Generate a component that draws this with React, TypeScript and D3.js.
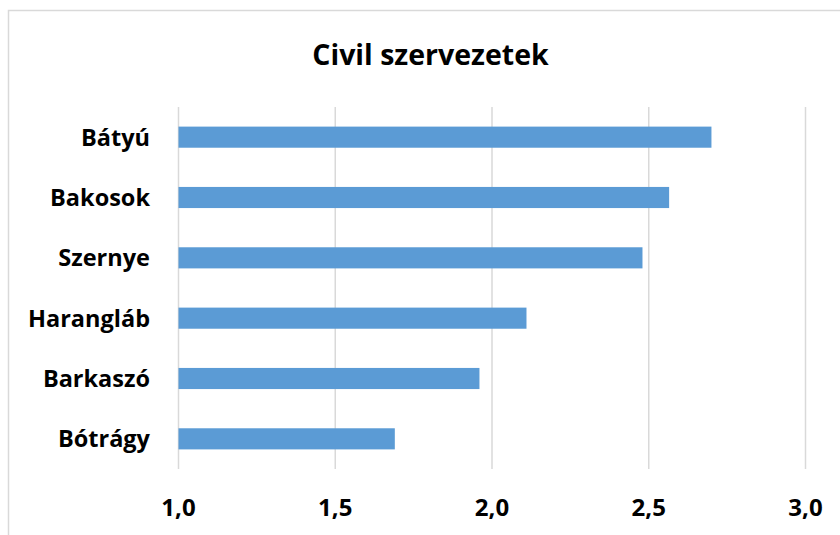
import React from "react";
import * as d3 from "d3";

const categories = ["Bátyú", "Bakosok", "Szernye", "Harangláb", "Barkaszó", "Bótrágy"];
const values = [2.7, 2.565, 2.48, 2.11, 1.96, 1.69];
const ticks = [1.0, 1.5, 2.0, 2.5, 3.0];
const title = "Civil szervezetek";

export default function App() {
  const W = 840, H = 535;
  const x = d3.scaleLinear().domain([1, 3]).range([178.5, 805.5]);
  const y = d3.scaleBand<string>().domain(categories).range([107, 469]).paddingInner(0.65).paddingOuter(0.325);
  const font = "'Open Sans', sans-serif";
  const fmt = (v: number) => d3.format(".1f")(v).replace(".", ",");
  return (
    <svg width={W} height={H} style={{ position: "absolute", left: 0, top: 0, background: "#fff" }}>
      <rect x={8.5} y={10.5} width={W + 20} height={H + 20} fill="#fff" stroke="#d9d9d9" strokeWidth={1.5} />
      <text x={430.5} y={65} textAnchor="middle" fontFamily={font} fontWeight={700} fontSize={28.5} fill="#000">{title}</text>
      {ticks.map((t) => (
        <line key={t} x1={x(t)} x2={x(t)} y1={107} y2={469} stroke="#d9d9d9" strokeWidth={1.5} />
      ))}
      {categories.map((c, i) => (
        <rect key={c} x={x(1)} y={y(c)!} width={x(values[i]) - x(1)} height={y.bandwidth()} fill="#5b9bd5" />
      ))}
      {categories.map((c) => (
        <text key={c} x={150} y={y(c)! + y.bandwidth() / 2} dy="0.36em" textAnchor="end" fontFamily={font} fontWeight={700} fontSize={23.5} fill="#000">{c}</text>
      ))}
      {ticks.map((t) => (
        <text key={t} x={x(t)} y={516} textAnchor="middle" fontFamily={font} fontWeight={700} fontSize={24} fill="#000">{fmt(t)}</text>
      ))}
    </svg>
  );
}
